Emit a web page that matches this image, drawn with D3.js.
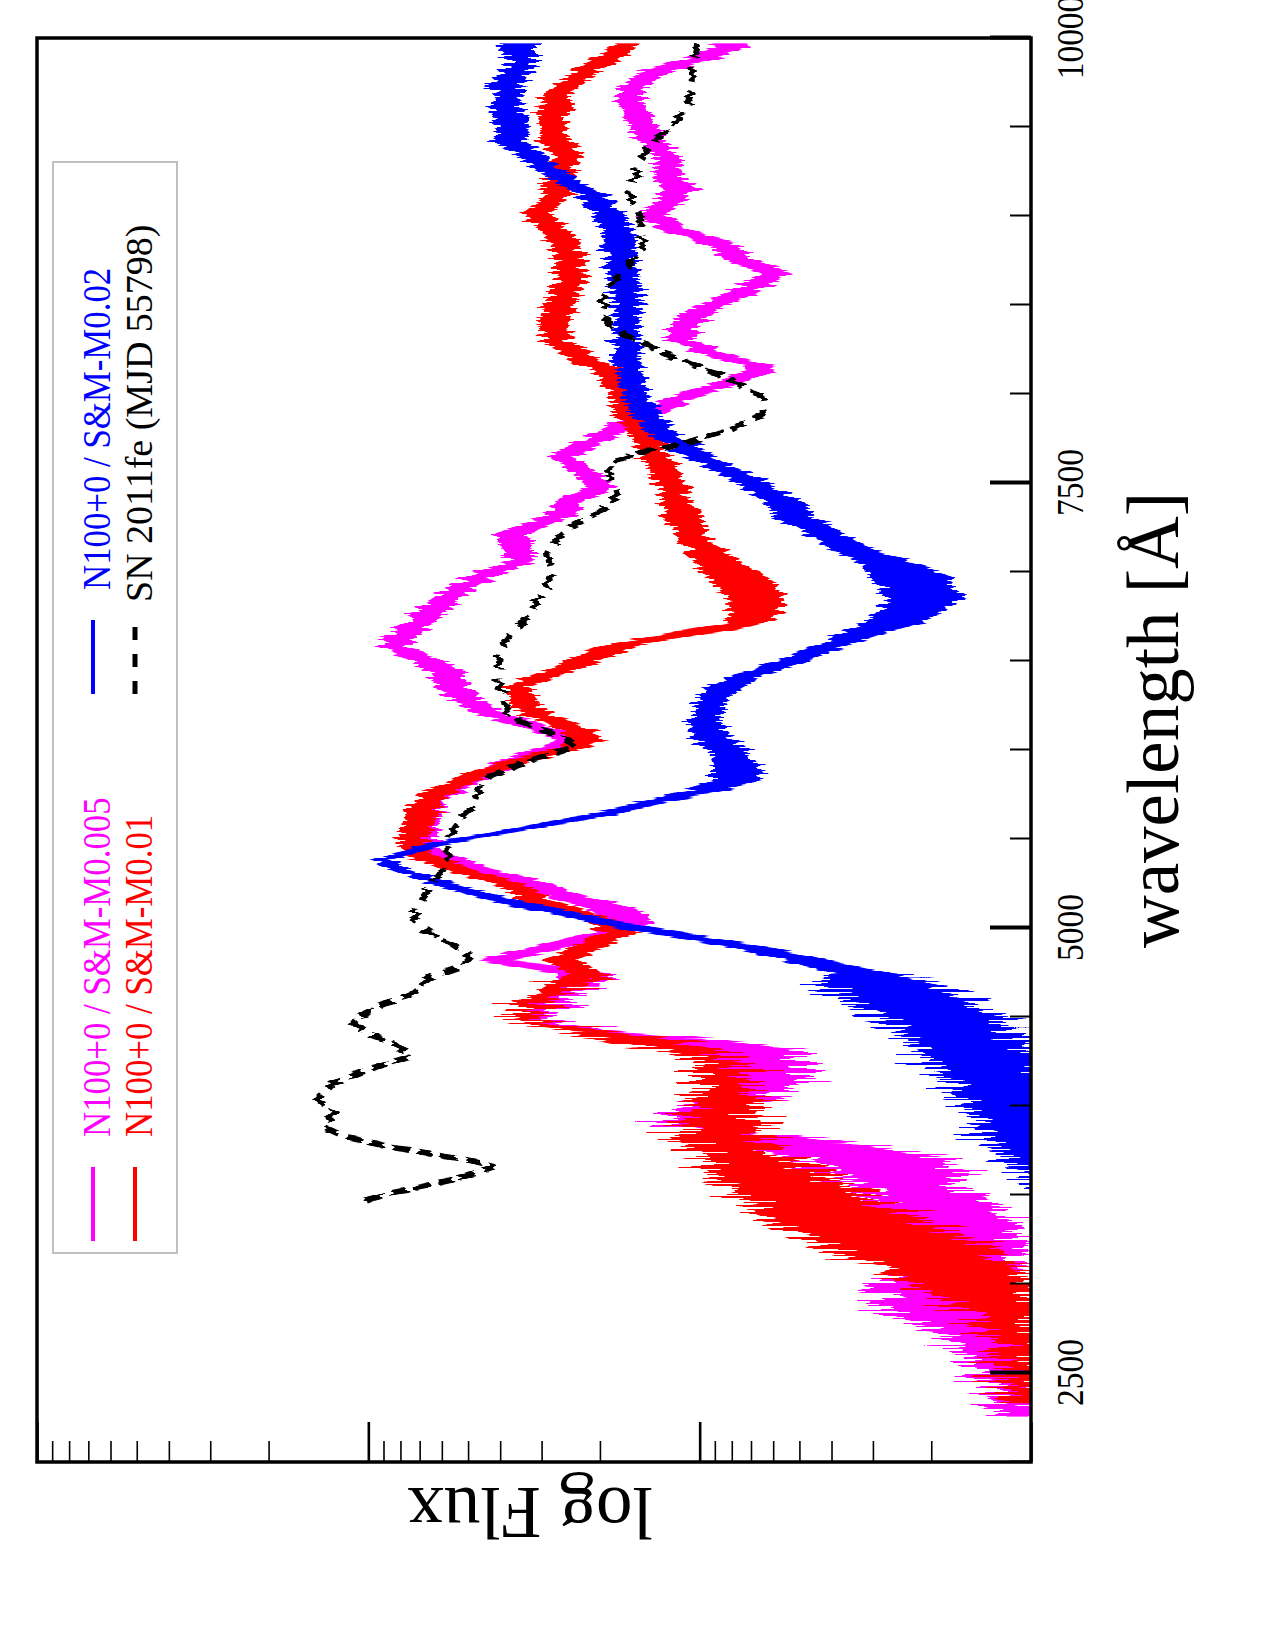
<!DOCTYPE html>
<html lang="en">
<head>
  <meta charset="UTF-8">
  <title>log Flux - wavelength</title>
  <style>
    body { margin: 0; background: #fff; }
    text { font-family: "Liberation Serif", "Times New Roman", serif; }
    .band { stroke: none; }
    .sn { fill: none; stroke: #000; stroke-width: 6px; stroke-dasharray: 15 9; stroke-linejoin: round; }
    .frame { fill: none; stroke: #000; stroke-width: 3.5px; }
  </style>
</head>
<body>
  <script src="https://cdn.jsdelivr.net/npm/d3@7"></script>
  <script>
    // [wavelength (Å), log flux, noise half-width (dex)]
    const magenta005 = [
      [9970,-0.111,0.05],[9895,-0.023,0.05],[9820,0.117,0.05],[9730,0.205,0.04],[9630,0.209,0.04],
      [9540,0.180,0.04],[9430,0.150,0.04],[9330,0.092,0.04],[9240,0.106,0.04],[9150,0.062,0.05],
      [9070,0.102,0.04],[9000,0.150,0.04],[8920,0.065,0.045],[8850,-0.055,0.05],[8750,-0.125,0.045],
      [8680,-0.228,0.045],[8580,-0.140,0.045],[8490,-0.023,0.045],[8400,0.036,0.045],[8300,0.062,0.04],
      [8210,-0.067,0.045],[8150,-0.198,0.045],[8060,-0.081,0.045],[7985,0.036,0.045],[7910,0.136,0.04],
      [7800,0.256,0.045],[7700,0.358,0.045],[7650,0.410,0.04],[7570,0.355,0.04],[7480,0.300,0.045],
      [7390,0.388,0.045],[7311,0.432,0.045],[7217,0.563,0.05],[7124,0.549,0.045],[7067,0.534,0.04],
      [6992,0.637,0.045],[6918,0.710,0.045],[6843,0.769,0.045],[6749,0.827,0.045],[6655,0.886,0.045],
      [6580,0.927,0.045],[6506,0.827,0.045],[6431,0.761,0.05],[6356,0.747,0.05],[6281,0.710,0.045],
      [6206,0.629,0.05],[6131,0.497,0.05],[6056,0.373,0.045],[5981,0.497,0.05],[5906,0.604,0.05],
      [5813,0.710,0.045],[5719,0.810,0.04],[5625,0.827,0.045],[5532,0.834,0.04],[5438,0.820,0.04],
      [5345,0.703,0.05],[5251,0.512,0.065],[5195,0.424,0.06],[5101,0.256,0.08],[5026,0.190,0.05],
      [4970,0.270,0.06],[4895,0.446,0.06],[4820,0.615,0.05],[4745,0.358,0.08],[4670,0.375,0.05],
      [4577,0.441,0.05],[4502,0.507,0.06],[4427,0.358,0.07],[4371,0.109,0.15],[4315,-0.106,0.2],
      [4240,-0.156,0.17],[4146,-0.172,0.16],[4052,-0.123,0.13],[3959,0.043,0.06],[3884,0.043,0.06],
      [3809,-0.255,0.15],[3715,-0.521,0.2],[3640,-0.587,0.2],[3547,-0.637,0.15],[3453,-0.720,0.14],
      [3359,-0.786,0.14],[3266,-0.819,0.15],[3172,-0.819,0.17],[3079,-0.786,0.2],[2985,-0.753,0.22],
      [2891,-0.753,0.2],[2798,-0.802,0.2],[2704,-0.885,0.13],[2610,-0.918,0.12],[2517,-0.935,0.1],
      [2423,-0.952,0.1],[2330,-0.968,0.08],[2255,-0.990,0.05]
    ];
    const red001 = [
      [9970,0.212,0.035],[9860,0.300,0.045],[9760,0.388,0.035],[9670,0.434,0.04],[9580,0.446,0.045],
      [9480,0.439,0.04],[9410,0.434,0.05],[9330,0.388,0.04],[9260,0.414,0.04],[9180,0.439,0.04],
      [9110,0.429,0.04],[9015,0.490,0.045],[8920,0.443,0.04],[8830,0.402,0.045],[8730,0.388,0.045],
      [8640,0.391,0.045],[8550,0.417,0.045],[8450,0.434,0.045],[8360,0.446,0.04],[8270,0.414,0.045],
      [8170,0.314,0.045],[8080,0.256,0.045],[7985,0.234,0.04],[7890,0.209,0.04],[7800,0.180,0.04],
      [7700,0.150,0.04],[7610,0.124,0.045],[7520,0.095,0.045],[7420,0.077,0.04],[7311,0.051,0.06],
      [7217,0.021,0.045],[7124,-0.023,0.05],[7030,-0.067,0.08],[6936,-0.140,0.09],[6843,-0.169,0.08],
      [6768,-0.169,0.08],[6712,-0.140,0.06],[6674,-0.023,0.08],[6637,0.095,0.06],[6599,0.212,0.05],
      [6543,0.300,0.06],[6468,0.388,0.05],[6412,0.476,0.045],[6356,0.549,0.04],[6300,0.541,0.04],
      [6243,0.519,0.045],[6187,0.476,0.045],[6131,0.388,0.045],[6056,0.322,0.05],[6000,0.417,0.045],
      [5944,0.534,0.045],[5888,0.637,0.045],[5813,0.725,0.045],[5756,0.798,0.045],[5700,0.827,0.045],
      [5625,0.842,0.05],[5550,0.856,0.045],[5476,0.871,0.045],[5419,0.856,0.045],[5345,0.754,0.045],
      [5270,0.622,0.045],[5213,0.534,0.045],[5157,0.500,0.05],[5100,0.400,0.05],[5040,0.290,0.05],
      [4970,0.241,0.05],[4895,0.329,0.05],[4820,0.424,0.05],[4745,0.351,0.05],[4670,0.408,0.05],
      [4577,0.507,0.05],[4502,0.532,0.05],[4446,0.441,0.05],[4389,0.242,0.1],[4333,0.076,0.1],
      [4277,-0.023,0.08],[4202,-0.065,0.07],[4109,-0.075,0.08],[4015,-0.070,0.1],[3921,-0.060,0.12],
      [3828,-0.060,0.13],[3734,-0.123,0.12],[3640,-0.189,0.18],[3547,-0.272,0.18],[3453,-0.355,0.22],
      [3359,-0.454,0.24],[3266,-0.554,0.24],[3172,-0.653,0.24],[3079,-0.753,0.22],[2985,-0.836,0.18],
      [2891,-0.885,0.13],[2798,-0.918,0.1],[2704,-0.952,0.08],[2610,-0.968,0.07],[2517,-0.968,0.07],
      [2423,-0.968,0.07],[2330,-0.977,0.06]
    ];
    const blue002 = [
      [9970,0.549,0.055],[9860,0.534,0.04],[9730,0.585,0.05],[9670,0.578,0.04],[9580,0.575,0.05],
      [9480,0.566,0.05],[9410,0.571,0.05],[9330,0.498,0.045],[9240,0.443,0.04],[9165,0.373,0.04],
      [9110,0.314,0.045],[9015,0.270,0.045],[8920,0.253,0.05],[8830,0.241,0.05],[8730,0.238,0.045],
      [8640,0.227,0.045],[8550,0.218,0.045],[8450,0.219,0.04],[8360,0.224,0.04],[8270,0.219,0.04],
      [8170,0.218,0.04],[8080,0.206,0.04],[7985,0.194,0.04],[7890,0.165,0.04],[7800,0.124,0.045],
      [7700,0.051,0.045],[7610,-0.037,0.045],[7520,-0.143,0.05],[7420,-0.231,0.055],[7311,-0.286,0.06],
      [7217,-0.374,0.06],[7124,-0.462,0.06],[7030,-0.594,0.09],[6974,-0.638,0.12],[6918,-0.652,0.11],
      [6861,-0.682,0.12],[6786,-0.638,0.1],[6711,-0.579,0.09],[6655,-0.491,0.07],[6599,-0.418,0.05],
      [6543,-0.330,0.05],[6468,-0.227,0.05],[6412,-0.140,0.05],[6337,-0.066,0.05],[6281,-0.037,0.045],
      [6187,-0.022,0.045],[6094,-0.022,0.06],[6000,-0.081,0.06],[5906,-0.110,0.07],[5831,-0.110,0.07],
      [5775,-0.022,0.06],[5719,0.109,0.045],[5663,0.241,0.045],[5607,0.388,0.045],[5532,0.607,0.04],
      [5476,0.783,0.04],[5419,0.900,0.035],[5382,0.952,0.03],[5326,0.900,0.03],[5251,0.783,0.04],
      [5176,0.637,0.04],[5120,0.505,0.05],[5064,0.358,0.05],[5007,0.212,0.06],[4970,0.095,0.06],
      [4895,-0.140,0.06],[4820,-0.316,0.07],[4745,-0.491,0.09],[4670,-0.554,0.17],[4577,-0.653,0.2],
      [4483,-0.720,0.2],[4389,-0.786,0.18],[4296,-0.836,0.18],[4202,-0.885,0.17],[4109,-0.918,0.17],
      [4015,-0.952,0.15],[3921,-0.968,0.15],[3828,-0.985,0.15],[3700,-1.060,0.12],[3500,-1.150,0.1]
    ];
    // [wavelength (Å), log flux]
    const sn2011fe = [
      [9970,0.007],[9860,0.021],[9760,0.021],[9670,0.029],[9580,0.051],[9480,0.095],[9390,0.153],
      [9300,0.183],[9200,0.197],[9110,0.212],[9015,0.183],[8920,0.180],[8830,0.168],[8730,0.212],
      [8640,0.256],[8550,0.285],[8450,0.300],[8360,0.256],[8270,0.153],[8210,0.080],[8170,0.021],
      [8080,-0.096],[7985,-0.184],[7890,-0.191],[7800,-0.096],[7720,0.051],[7670,0.183],[7610,0.270],
      [7520,0.270],[7420,0.253],[7311,0.329],[7255,0.388],[7180,0.432],[7105,0.461],[6992,0.446],
      [6918,0.461],[6843,0.490],[6749,0.519],[6655,0.563],[6562,0.600],[6468,0.607],[6374,0.607],
      [6281,0.585],[6206,0.578],[6131,0.505],[6075,0.417],[6019,0.373],[5962,0.476],[5906,0.563],
      [5850,0.637],[5775,0.666],[5682,0.681],[5607,0.725],[5532,0.754],[5457,0.761],[5382,0.761],
      [5307,0.783],[5232,0.812],[5157,0.842],[5064,0.864],[4989,0.827],[4914,0.754],[4839,0.695],
      [4783,0.724],[4727,0.812],[4633,0.872],[4558,0.972],[4483,1.055],[4408,1.005],[4352,0.922],
      [4277,0.872],[4202,1.005],[4127,1.104],[4034,1.154],[3959,1.104],[3884,1.137],[3828,1.071],
      [3771,0.938],[3734,0.822],[3697,0.706],[3659,0.623],[3603,0.706],[3547,0.839],[3509,0.938],
      [3453,1.021]
    ];

    const legendLabels = ['N100+0 / S&M-M0.005', 'N100+0 / S&M-M0.01', 'N100+0 / S&M-M0.02', 'SN 2011fe (MJD 55798)'];
    const seriesColors = ['#ff00ff', '#ff0000', '#0000ff', '#000000'];
    const waveMajor = [2500, 5000, 7500, 10000];

    // the figure is a landscape plot turned 90 degrees on the page
    const W = 1424, H = 994;
    const x = d3.scaleLinear().domain([2000, 10000]).range([0, W]);
    const y = d3.scaleLog().domain([0.1, 100]).range([H, 0]);

    const svg = d3.select('body').append('svg').attr('width', 1275).attr('height', 1650);

    // rough edges for the noisy model spectra (pure rendering effect, shifts across the flux direction)
    const defs = svg.append('defs');
    function jagFilter(id, freq, scale) {
      const f = defs.append('filter').attr('id', id)
        .attr('x', '-5%').attr('y', '-15%').attr('width', '110%').attr('height', '130%')
        .attr('color-interpolation-filters', 'sRGB');
      f.append('feTurbulence').attr('type', 'fractalNoise').attr('baseFrequency', freq)
        .attr('numOctaves', 2).attr('seed', 7).attr('result', 'noise');
      f.append('feColorMatrix').attr('in', 'noise').attr('type', 'matrix')
        .attr('values', '0 0 0 0 0.5  0 1 0 0 0  0 0 0 0 0  0 0 0 0 1').attr('result', 'shift');
      f.append('feDisplacementMap').attr('in', 'SourceGraphic').attr('in2', 'shift')
        .attr('scale', scale).attr('xChannelSelector', 'R').attr('yChannelSelector', 'G');
    }
    jagFilter('jagSoft', '0.35 0.01', 30);
    jagFilter('jagHard', '0.45 0.01', 110);
    jagFilter('jagLine', '0.25 0.02', 16);

    const g = svg.append('g').attr('transform', 'translate(37,1462) rotate(-90)');

    g.append('clipPath').attr('id', 'plotclip')
      .append('rect').attr('width', W).attr('height', H);
    const plot = g.append('g').attr('clip-path', 'url(#plotclip)');

    const band = d3.area()
      .x(d => x(d[0]))
      .y0(d => y(10 ** (d[1] - d[2])))
      .y1(d => y(10 ** (d[1] + d[2])));
    const line = d3.line().x(d => x(d[0])).y(d => y(10 ** d[1]));

    // blue end (< 4700 Å) is much noisier than the rest
    const cut = 4700;
    [magenta005, red001, blue002].forEach((s, i) => {
      plot.append('path').attr('class', 'band').attr('fill', seriesColors[i])
        .attr('filter', 'url(#jagSoft)').attr('d', band(s.filter(d => d[0] >= cut - 60)));
      plot.append('path').attr('class', 'band').attr('fill', seriesColors[i])
        .attr('filter', 'url(#jagHard)').attr('d', band(s.filter(d => d[0] <= cut + 60)));
    });
    plot.append('path').attr('class', 'sn').attr('filter', 'url(#jagLine)').attr('d', line(sn2011fe));

    g.append('rect').attr('class', 'frame').attr('width', W).attr('height', H);

    // wavelength axis (right side of the page)
    const minorWave = d3.range(2000, 10001, 500).filter(d => !waveMajor.includes(d));
    g.append('g').attr('transform', `translate(0,${H})`)
      .call(d3.axisBottom(x).tickValues(minorWave).tickSizeInner(-21).tickSizeOuter(0).tickFormat(''))
      .call(a => a.select('.domain').remove())
      .call(a => a.selectAll('line').attr('stroke-width', 2));
    g.append('g').attr('transform', `translate(0,${H})`)
      .call(d3.axisBottom(x).tickValues(waveMajor).tickSizeInner(-41).tickSizeOuter(0)
        .tickPadding(25).tickFormat(d3.format('d')))
      .attr('font-family', '"Liberation Serif", serif').attr('font-size', 38)
      .call(a => a.select('.domain').remove())
      .call(a => a.selectAll('line').attr('stroke-width', 4))
      .call(a => a.selectAll('text').attr('transform', 'scale(0.88,1)'));

    // flux axis (bottom of the page), log ticks without labels
    const isDecade = d => Math.abs(Math.log10(d) - Math.round(Math.log10(d))) < 1e-6;
    g.append('g')
      .call(d3.axisLeft(y).tickValues(y.ticks().filter(d => !isDecade(d))).tickSizeInner(-21).tickSizeOuter(0).tickFormat(''))
      .call(a => a.select('.domain').remove())
      .call(a => a.selectAll('line').attr('stroke-width', 1.6));
    g.append('g')
      .call(d3.axisLeft(y).tickValues(y.ticks().filter(isDecade)).tickSizeInner(-40).tickSizeOuter(0).tickFormat(''))
      .call(a => a.select('.domain').remove())
      .call(a => a.selectAll('line').attr('stroke-width', 2.6));

    g.append('text').attr('x', 742).attr('y', 1141).attr('text-anchor', 'middle')
      .attr('font-size', 73).text('wavelength [Å]');
    g.append('text').attr('transform', 'translate(-26,493) rotate(-90)').attr('text-anchor', 'middle')
      .attr('font-size', 73).text('log Flux');

    // legend: two columns, two rows
    const leg = g.append('g');
    leg.append('rect').attr('x', 209).attr('y', 16).attr('width', 1091).attr('height', 124)
      .attr('fill', '#fff').attr('stroke', '#c0c0c0').attr('stroke-width', 2);
    const colX = [221, 768], rowY = [56, 98], baseY = [73, 115];
    legendLabels.forEach((label, i) => {
      const c = Math.floor(i / 2), r = i % 2;
      const l = leg.append('line')
        .attr('x1', colX[c]).attr('x2', colX[c] + 74)
        .attr('y1', rowY[r]).attr('y2', rowY[r])
        .attr('stroke', seriesColors[i]).attr('stroke-width', 4);
      if (i === 3) l.attr('stroke-dasharray', '13 14').attr('stroke-width', 5);
      const t = leg.append('text').attr('fill', seriesColors[i]).text(label);
      if (i === 3) {
        t.attr('font-size', 38).attr('transform', `translate(${colX[c] + 92},${baseY[r]})`);
      } else {
        t.attr('font-size', 40).attr('transform', `translate(${colX[c] + 104},${baseY[r]}) scale(0.87,1)`);
      }
    });
  </script>
</body>
</html>
